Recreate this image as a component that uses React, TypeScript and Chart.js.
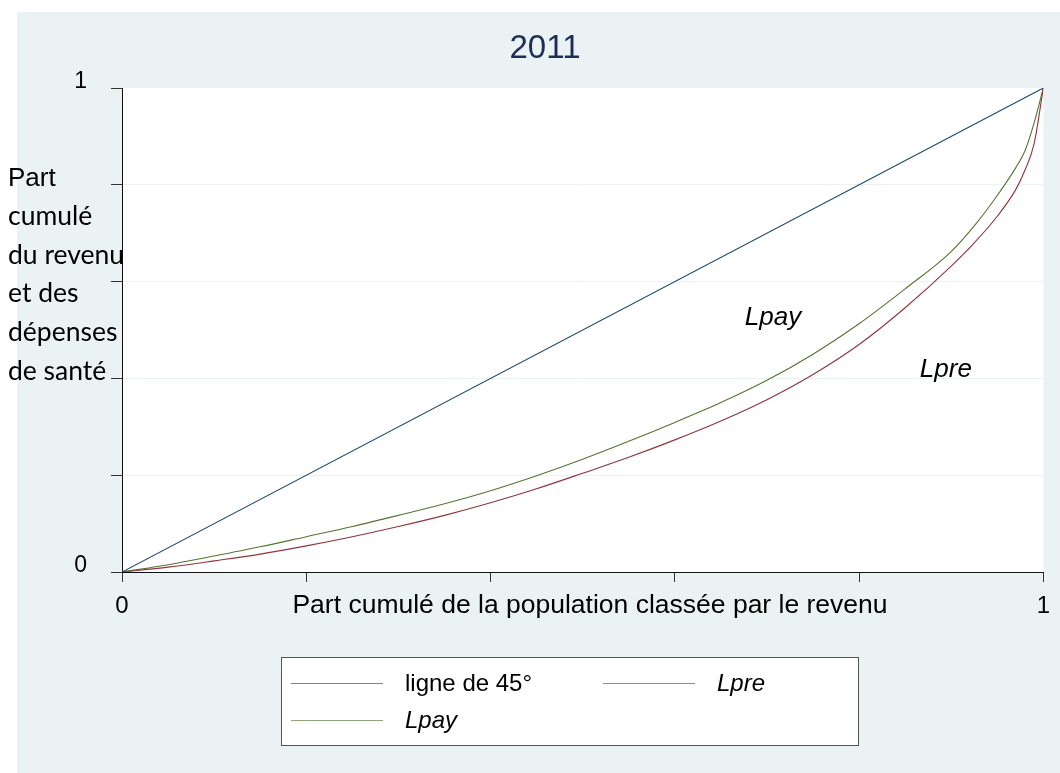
import React, { useEffect, useRef } from 'react';
import { Chart, registerables } from 'chart.js';

Chart.register(...registerables);

const TITLE = '2011';
const X_TITLE = 'Part cumulé de la population classée par le revenu';
const Y_TITLE_LINES = ['Part', 'cumulé', 'du revenu', 'et des', 'dépenses', 'de santé'];
const SERIES_NAMES = ['ligne de 45°', 'Lpre', 'Lpay'];

const popShare = [0, 0.05, 0.1, 0.15, 0.2, 0.25, 0.3, 0.35, 0.4, 0.45, 0.5, 0.55, 0.6, 0.65, 0.7, 0.75, 0.8, 0.85, 0.9, 0.925, 0.95, 0.97, 0.98, 0.99, 1];
const lpre = [0, 0.01, 0.023, 0.037, 0.054, 0.073, 0.094, 0.117, 0.143, 0.172, 0.204, 0.237, 0.273, 0.312, 0.356, 0.408, 0.47, 0.546, 0.632, 0.68, 0.735, 0.79, 0.83, 0.885, 1];
const lpay = [0, 0.015, 0.033, 0.052, 0.073, 0.094, 0.117, 0.141, 0.168, 0.199, 0.233, 0.27, 0.309, 0.35, 0.396, 0.45, 0.513, 0.585, 0.662, 0.715, 0.778, 0.835, 0.87, 0.928, 1];
const diagonalX = [0, 1];
const diagonalY = [0, 1];
const axisTickStep = 0.2;
const labeledTicks = [0, 1];
const curveLabels = [
  { text: 'Lpay', x: 0.676, y: 0.51 },
  { text: 'Lpre', x: 0.866, y: 0.403 },
];

const BG = '#EAF2F3';
const GRID = '#EAF2F3';
const COLORS = ['#1A476F', '#90353B', '#55752F'];
const LEGEND_COLORS = ['#6F88A3', '#B97C80', '#90A878'];
const ARIAL = '"Liberation Sans", Arial, Helvetica, sans-serif';
const CAL = 'Lato, "Open Sans", sans-serif';

const toPts = (xs: number[], ys: number[]) => xs.map((x, i) => ({ x, y: ys[i] }));

const decor = {
  id: 'decor',
  beforeDraw(chart: any) {
    const { ctx, chartArea: a, width, height } = chart;
    ctx.save();
    ctx.fillStyle = '#ffffff';
    ctx.fillRect(0, 0, width, height);
    ctx.fillStyle = BG;
    ctx.fillRect(17, 12, width - 17, height - 12);
    ctx.fillStyle = '#ffffff';
    ctx.fillRect(a.left, a.top, a.right - a.left, a.bottom - a.top);
    ctx.restore();
  },
  afterDraw(chart: any) {
    const { ctx, scales } = chart;
    const xs = scales.x;
    const ys = scales.y;
    ctx.save();
    ctx.fillStyle = '#1E2D58';
    ctx.font = `33px ${ARIAL}`;
    ctx.textAlign = 'center';
    ctx.textBaseline = 'alphabetic';
    ctx.fillText(TITLE, 545, 58);
    ctx.fillStyle = '#000';
    ctx.font = `26.5px ${ARIAL}`;
    ctx.fillText(X_TITLE, 590, 613);
    ctx.textAlign = 'left';
    Y_TITLE_LINES.forEach((line, i) => {
      ctx.font = i === 0 ? `26px ${ARIAL}` : `26.5px ${CAL}`;
      ctx.fillText(line, 8, 186 + 38.8 * i);
    });
    ctx.font = `italic 26px ${ARIAL}`;
    curveLabels.forEach((l) => {
      ctx.fillText(l.text, xs.getPixelForValue(l.x), ys.getPixelForValue(l.y));
    });
    const bx = 281.5, by = 657.5, bw = 577, bh = 88;
    ctx.fillStyle = '#fff';
    ctx.fillRect(bx, by, bw, bh);
    ctx.strokeStyle = '#555';
    ctx.lineWidth = 1;
    ctx.strokeRect(bx, by, bw, bh);
    const entries = [
      { x: 291, y: 683, tx: 405, ty: 691, italic: false },
      { x: 603, y: 683, tx: 717, ty: 691, italic: true },
      { x: 291, y: 720, tx: 405, ty: 728, italic: true },
    ];
    entries.forEach((e, i) => {
      ctx.strokeStyle = LEGEND_COLORS[i];
      ctx.lineWidth = 1;
      ctx.beginPath();
      ctx.moveTo(e.x, e.y + 0.5);
      ctx.lineTo(e.x + 92, e.y + 0.5);
      ctx.stroke();
      ctx.fillStyle = '#000';
      ctx.font = `${e.italic ? 'italic ' : ''}24px ${ARIAL}`;
      ctx.fillText(SERIES_NAMES[i], e.tx, e.ty);
    });
    ctx.restore();
  },
};

export default function App() {
  const ref = useRef<HTMLCanvasElement | null>(null);
  useEffect(() => {
    if (!ref.current) return;
    const chart = new Chart(ref.current, {
      type: 'line',
      data: {
        datasets: [
          { label: SERIES_NAMES[0], data: toPts(diagonalX, diagonalY), borderColor: COLORS[0], borderWidth: 1.1, pointRadius: 0, tension: 0 },
          { label: SERIES_NAMES[1], data: toPts(popShare, lpre), borderColor: COLORS[1], borderWidth: 1.1, pointRadius: 0, cubicInterpolationMode: 'monotone' },
          { label: SERIES_NAMES[2], data: toPts(popShare, lpay), borderColor: COLORS[2], borderWidth: 1.1, pointRadius: 0, cubicInterpolationMode: 'monotone' },
        ],
      },
      options: {
        responsive: false,
        animation: false,
        devicePixelRatio: 1,
        layout: { padding: { left: 0, right: 13, top: 88, bottom: 0 } },
        plugins: { legend: { display: false }, title: { display: false }, tooltip: { enabled: false } },
        scales: {
          x: {
            type: 'linear',
            min: 0,
            max: 1,
            afterFit: (s: any) => { s.height = 201; },
            ticks: {
              stepSize: axisTickStep,
              autoSkip: false,
              maxRotation: 0,
              padding: 10,
              color: '#000',
              font: { family: ARIAL, size: 24 },
              callback: (v: any) => (labeledTicks.some((t) => Math.abs(t - v) < 1e-9) ? String(Math.round(v)) : ''),
            },
            grid: { drawOnChartArea: false, tickLength: 10, tickColor: '#333', color: GRID },
            border: { display: true, color: '#111', width: 1 },
          },
          y: {
            type: 'linear',
            min: 0,
            max: 1,
            afterFit: (s: any) => { s.width = 122; },
            ticks: {
              stepSize: axisTickStep,
              autoSkip: false,
              padding: 24,
              labelOffset: -6,
              color: '#000',
              font: { family: ARIAL, size: 23 },
              callback: (v: any) => (labeledTicks.some((t) => Math.abs(t - v) < 1e-9) ? String(Math.round(v)) : ''),
            },
            grid: {
              tickLength: 11,
              tickColor: '#333',
              color: (c: any) => (c.tick && (c.tick.value === 0 || c.tick.value === 1) ? 'rgba(0,0,0,0)' : GRID),
            },
            border: { display: true, color: '#111', width: 1 },
          },
        },
      },
      plugins: [decor],
    });
    return () => chart.destroy();
  }, []);
  return (
    <div style={{ position: 'absolute', left: 0, top: 0, width: 1060, height: 773 }}>
      <canvas ref={ref} width={1060} height={773} style={{ display: 'block' }} />
    </div>
  );
}
